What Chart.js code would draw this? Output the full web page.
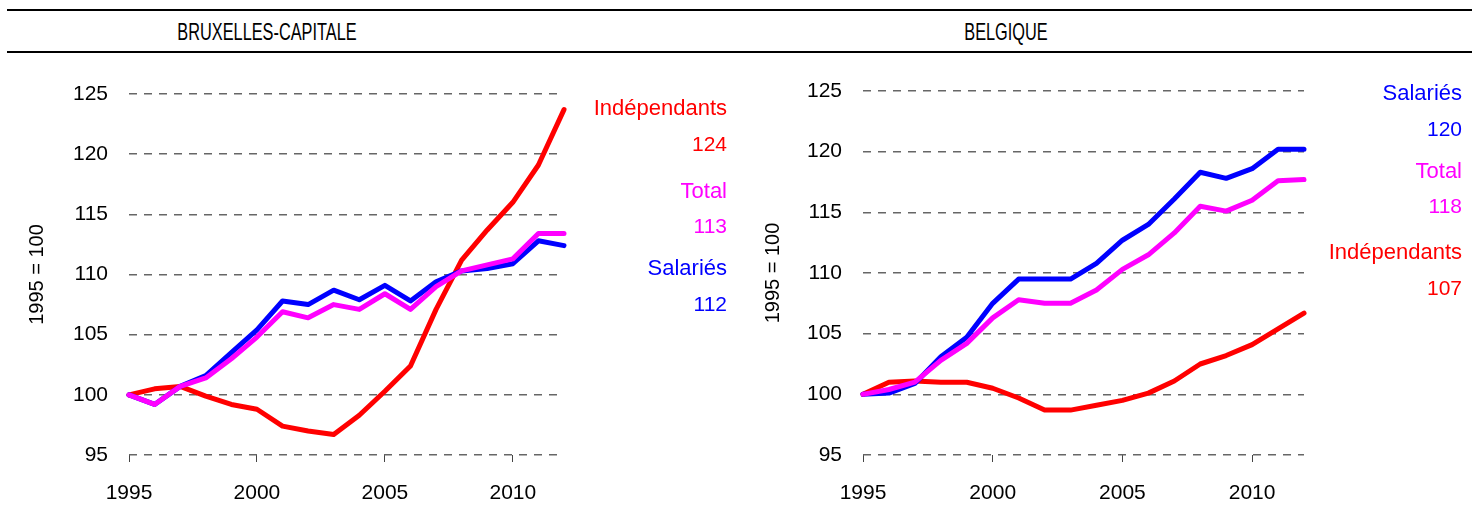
<!DOCTYPE html>
<html><head><meta charset="utf-8">
<script src="https://cdn.jsdelivr.net/npm/chart.js@4"></script>
<style>
body{margin:0;background:#fff;width:1472px;height:529px;overflow:hidden;position:relative;font-family:"Liberation Sans",Arial,sans-serif}
.rule{position:absolute;left:7px;right:0;height:2px;background:#000}
.ttl{position:absolute;top:18px;transform:translateX(-50%) scaleX(0.68);transform-origin:50% 50%;font-family:"Liberation Sans",Arial,sans-serif;font-size:24px;white-space:nowrap;color:#000}
.wrap{position:absolute;top:0;height:529px}
canvas{display:block}
</style></head><body>
<div class="rule" style="top:9px"></div>
<div class="rule" style="top:51px"></div>
<div class="ttl" style="left:267px">BRUXELLES-CAPITALE</div>
<div class="ttl" style="left:1006px">BELGIQUE</div>
<div class="wrap" style="left:0;width:740px"><canvas id="c1" width="740" height="529"></canvas></div>
<div class="wrap" style="left:740px;width:732px"><canvas id="c2" width="732" height="529"></canvas></div>
<script>
// ---- data ----
const years = [1995,1996,1997,1998,1999,2000,2001,2002,2003,2004,2005,2006,2007,2008,2009,2010,2011,2012];
const xTicks = [1995,2000,2005,2010];
const yTicks = [95,100,105,110,115,120,125];
const yTitle = '1995 = 100';
const titles = ['BRUXELLES-CAPITALE','BELGIQUE'];
const seriesNames = ['Total','Salariés','Indépendants'];

const bxlTotal = [100,99.2,100.7,101.4,103.0,104.8,106.9,106.4,107.5,107.1,108.4,107.1,109.0,110.3,110.8,111.3,113.4,113.4];
const bxlSal   = [100,99.2,100.7,101.6,103.5,105.4,107.8,107.5,108.7,107.9,109.1,107.8,109.4,110.3,110.5,110.9,112.8,112.4];
const bxlInd   = [100,100.5,100.7,99.9,99.2,98.8,97.4,97.0,96.7,98.3,100.3,102.4,107.1,111.2,113.7,116.0,119.1,123.7];

const beTotal = [100,100.4,101.0,102.8,104.2,106.3,107.8,107.5,107.5,108.6,110.3,111.5,113.3,115.5,115.1,116.0,117.6,117.7];
const beSal   = [100,100.1,100.9,103.1,104.7,107.5,109.5,109.5,109.5,110.8,112.7,114.0,116.1,118.3,117.8,118.6,120.2,120.2];
const beInd   = [100,101.0,101.1,101.0,101.0,100.5,99.7,98.7,98.7,99.1,99.5,100.1,101.1,102.5,103.2,104.1,105.4,106.7];

// ---- styles ----
const colors = {'Total':'#FF00FF','Salariés':'#0000FF','Indépendants':'#FF0000'};
const FONT = '"Liberation Sans", Arial, sans-serif';

function makeChart(id, seriesData, cfg){
  const datasets = seriesNames.map((name,i)=>({
    label:name,
    data: years.map((y,j)=>({x:y, y:seriesData[i][j]})),
    borderColor: colors[name],
    backgroundColor: colors[name],
    borderWidth:5,
    pointRadius:0,
    tension:0,
    borderJoinStyle:'round',
    borderCapStyle:'round',
    clip:false
  }));
  const endLabels = {
    id:'endLabels',
    afterDraw(chart){
      const ctx = chart.ctx;
      ctx.save();
      ctx.textAlign = 'right';
      ctx.textBaseline = 'middle';
      cfg.labelOrder.forEach((name,k)=>{
        const idx = seriesNames.indexOf(name);
        const d = seriesData[idx];
        ctx.fillStyle = colors[name];
        ctx.font = '22px ' + FONT;
        ctx.fillText(name, cfg.labelX, cfg.labelY[2*k]);
        ctx.font = '21px ' + FONT;
        ctx.fillText(String(Math.round(d[d.length-1])), cfg.labelX, cfg.labelY[2*k+1]);
      });
      ctx.restore();
    }
  };
  return new Chart(document.getElementById(id),{
    type:'line',
    data:{datasets},
    plugins:[endLabels],
    options:{
      responsive:false,
      animation:false,
      devicePixelRatio:1,
      layout:{padding:{left:0,right:cfg.padRight,top:cfg.padTop,bottom:0}},
      plugins:{legend:{display:false},tooltip:{enabled:false},title:{display:false}},
      scales:{
        x:{
          type:'linear',min:1995,max:2012,
          afterBuildTicks(s){ s.ticks = xTicks.map(v=>({value:v})); },
          afterFit(s){ s.height = cfg.xHeight; },
          grid:{drawOnChartArea:false,drawTicks:true,tickLength:7,color:'#444',lineWidth:1},
          border:{display:false},
          ticks:{color:'#000',font:{family:FONT,size:21},padding:19,maxRotation:0,autoSkip:false,callback:v=>String(v)}
        },
        y:{
          type:'linear',min:95,max:125,
          afterBuildTicks(s){ s.ticks = yTicks.map(v=>({value:v})); },
          afterFit(s){ s.width = cfg.yWidth; },
          grid:{drawTicks:false,color:'#666',lineWidth:1.5},
          border:{display:false,dash:[8,7]},
          ticks:{color:'#000',font:{family:FONT,size:21},padding:21,callback:v=>String(v)},
          title:{display:true,text:yTitle,color:'#000',font:{family:FONT,size:20},padding:{top:cfg.titlePad,bottom:0}}
        }
      }
    }
  });
}

makeChart('c1',[bxlTotal,bxlSal,bxlInd],{
  padRight:176, padTop:94, xHeight:74, yWidth:129, titlePad:25,
  labelX:727, labelOrder:['Indépendants','Total','Salariés'],
  labelY:[109,145,192,227,269,305]
});
makeChart('c2',[beTotal,beSal,beInd],{
  padRight:168, padTop:91, xHeight:74, yWidth:123, titlePad:21,
  labelX:722, labelOrder:['Salariés','Total','Indépendants'],
  labelY:[94,130,172,207,253,289]
});
</script>
</body></html>
